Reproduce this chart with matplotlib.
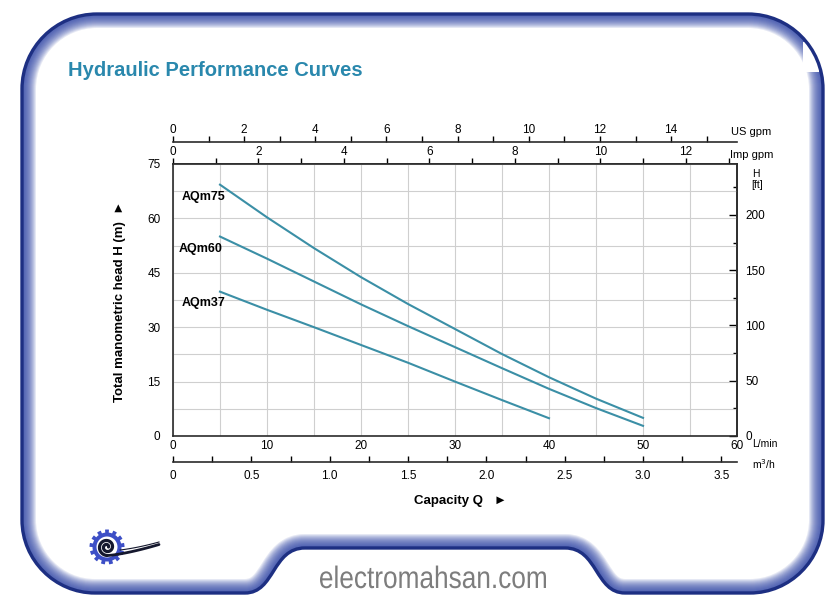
import numpy as np
import matplotlib
matplotlib.use("Agg")
import matplotlib.pyplot as plt
from matplotlib.path import Path
from matplotlib.patches import PathPatch, Polygon, Circle, Rectangle
from matplotlib.textpath import TextPath
from matplotlib.font_manager import FontProperties
from matplotlib.transforms import Affine2D
from matplotlib.ticker import MultipleLocator

plt.rcParams['font.family'] = ['Liberation Sans', 'DejaVu Sans']

# === Data ===
flow_lmin = [5, 10, 15, 20, 25, 30, 35, 40, 45, 50]
head_aqm75 = [69.3, 60.3, 51.8, 43.8, 36.4, 29.5, 22.6, 16.2, 10.3, 5.0]
head_aqm60 = [55.0, 48.9, 42.6, 36.3, 30.3, 24.5, 18.7, 13.0, 7.7, 2.8]
flow_aqm37 = [5, 10, 15, 20, 25, 30, 35, 40]
head_aqm37 = [39.8, 34.8, 30.0, 25.1, 20.2, 15.0, 9.9, 4.9]

curves = [
    ("AQm75", flow_lmin, head_aqm75, (0.9, 65.9)),
    ("AQm60", flow_lmin, head_aqm60, (0.65, 51.6)),
    ("AQm37", flow_aqm37, head_aqm37, (0.9, 36.7)),
]

lmin_ticks = [0, 10, 20, 30, 40, 50, 60]
head_ticks = [0, 15, 30, 45, 60, 75]
usgpm_ticks = [0, 2, 4, 6, 8, 10, 12, 14]
impgpm_ticks = [0, 2, 4, 6, 8, 10, 12]
m3h_ticks = [0, 0.5, 1.0, 1.5, 2.0, 2.5, 3.0, 3.5]
m3h_labels = ["0", "0.5", "1.0", "1.5", "2.0", "2.5", "3.0", "3.5"]
ft_ticks = [0, 50, 100, 150, 200]

CURVE_COLOR = "#3b8fa6"
TITLE_COLOR = "#2a88ad"
AXIS_COLOR = "#2b2b2b"
GRID_COLOR = "#cfcfcf"
FRAME_COLOR = "#1d2f82"

W, H = 839, 616
fig = plt.figure(figsize=(W / 100, H / 100), dpi=100)

# === Background: frame, title, logo, footer ===
bg = fig.add_axes([0, 0, 1, 1], zorder=-1)
bg.set_xlim(0, W)
bg.set_ylim(H, 0)
bg.axis("off")

verts = [
    (22, 89),
    (22, 47.6), (55.6, 14), (97, 14),
    (748, 14),
    (789.4, 14), (823, 47.6), (823, 89),
    (823, 520),
    (823, 560), (790, 593), (750, 593),
    (625, 593),
    (595, 593), (598, 548), (565, 548),
    (305, 548),
    (272, 548), (275, 593), (245, 593),
    (95, 593),
    (55, 593), (22, 560), (22, 520),
    (22, 89),
]
codes = ([Path.MOVETO] + [Path.CURVE4] * 3 + [Path.LINETO] + [Path.CURVE4] * 3
         + [Path.LINETO] + [Path.CURVE4] * 3 + [Path.LINETO] + [Path.CURVE4] * 3
         + [Path.LINETO] + [Path.CURVE4] * 3 + [Path.LINETO] + [Path.CURVE4] * 3
         + [Path.CLOSEPOLY])
frame_path = Path(verts, codes)
clip = PathPatch(frame_path, facecolor="none", edgecolor="none")
bg.add_patch(clip)
for k in range(1, 15):
    glow = PathPatch(frame_path, facecolor="none", edgecolor="#2f45a6", lw=2 * k * 0.72,
                     alpha=0.12, joinstyle="round")
    bg.add_patch(glow)
    glow.set_clip_path(clip)
bg.add_patch(Rectangle((803, 42), 16, 30, facecolor="white", edgecolor="none"))
bg.add_patch(PathPatch(frame_path, facecolor="none", edgecolor=FRAME_COLOR, lw=2.4))

bg.text(68, 70, "Hydraulic Performance Curves", fontsize=14.5, fontweight="bold",
        color=TITLE_COLOR, ha="left", va="center")

# footer url, squeezed like a narrow face
tp = TextPath((0, 0), "electromahsan.com", size=31, prop=FontProperties(family="Liberation Sans"))
ext = tp.get_extents()
sx = 226 / ext.width
tp = tp.transformed(Affine2D().translate(-ext.x0, 0).scale(sx, -1).translate(320, 588))
bg.add_patch(PathPatch(tp, facecolor="#7d7d7d", edgecolor="none"))

# logo: gear + spiral
cx, cy = 107, 547
phi = np.linspace(0, 2 * np.pi, 721)
r_out = np.where((np.floor(phi / (2 * np.pi / 13) * 2) % 2) == 0, 17.5, 14.5)
bg.add_patch(Polygon(np.column_stack([cx + r_out * np.cos(phi), cy - r_out * np.sin(phi)]),
                     closed=True, facecolor="#3d4fc6", edgecolor="none"))
bg.add_patch(Circle((cx, cy), 10.5, facecolor="white", edgecolor="none"))
sp = np.linspace(0.0, 3.5 * np.pi, 300)
rs = 1.5 + 7.0 * sp / (3.5 * np.pi)
bg.plot(cx + rs * np.cos(sp), cy - rs * np.sin(sp), color="#15182e", lw=2.3,
        solid_capstyle="round")
tx = np.linspace(cx, cx + 52, 60)
bg.plot(tx, cy + 8.5 - 11 * ((tx - cx) / 52) ** 1.4, color="#15182e", lw=2.0,
        solid_capstyle="round")
bg.plot(tx[15:], cy + 4 - 9 * ((tx[15:] - cx) / 52) ** 1.6, color="#15182e", lw=0.8)

# === Main chart ===
ax = fig.add_axes([173 / W, 1 - 436 / H, 564 / W, 272 / H])
for name, q, h, (lx, ly) in curves:
    ax.plot(q, h, color=CURVE_COLOR, lw=1.5, zorder=3)
    ax.text(lx, ly, name, fontsize=9, fontweight="bold", ha="left", va="center")

ax.set_xlim(0, 60)
ax.set_ylim(0, 75)
ax.set_xticks(lmin_ticks)
ax.set_yticks(head_ticks)
ax.xaxis.set_minor_locator(MultipleLocator(5))
ax.yaxis.set_minor_locator(MultipleLocator(7.5))
ax.grid(which="both", color=GRID_COLOR, lw=0.8)
ax.set_axisbelow(True)
ax.tick_params(which="both", length=0, labelsize=8.5)
ax.tick_params(axis="y", pad=9)
ax.tick_params(axis="x", pad=3)
for s in ax.spines.values():
    s.set_color(AXIS_COLOR)
    s.set_linewidth(1.2)

# right: feet
ft = ax.secondary_yaxis("right", functions=(lambda m: m * 3.28084, lambda f: f / 3.28084))
ft.set_yticks(ft_ticks)
ft.yaxis.set_minor_locator(MultipleLocator(25))
ft.tick_params(which="major", direction="in", length=6, width=1, labelsize=8.5, pad=6)
ft.tick_params(which="minor", direction="in", length=3, width=1)
ft.spines["right"].set_color(AXIS_COLOR)
ft.spines["right"].set_linewidth(1.2)

# top: Imp gpm on the frame, US gpm above
imp = ax.secondary_xaxis("top", functions=(lambda q: q / 4.54609, lambda g: g * 4.54609))
imp.set_xticks(impgpm_ticks)
imp.xaxis.set_minor_locator(MultipleLocator(1))
imp.tick_params(which="both", direction="out", length=4, width=1, labelsize=8.5, pad=0.5)
imp.spines["top"].set_color(AXIS_COLOR)
imp.spines["top"].set_linewidth(1.2)

us = ax.secondary_xaxis(1 + 22 / 272, functions=(lambda q: q / 3.78541, lambda g: g * 3.78541))
us.set_xticks(usgpm_ticks)
us.xaxis.set_minor_locator(MultipleLocator(1))
us.tick_params(which="both", direction="out", length=4, width=1, labelsize=8.5, pad=0.5)
us.spines["top"].set_color(AXIS_COLOR)
us.spines["top"].set_linewidth(1.2)

# bottom: m3/h
m3h = ax.secondary_xaxis(-26 / 272, functions=(lambda q: q * 0.06, lambda v: v / 0.06))
m3h.set_xticks(m3h_ticks, m3h_labels)
m3h.xaxis.set_minor_locator(MultipleLocator(0.25))
m3h.tick_params(which="both", direction="in", length=4, width=1, labelsize=8.5, pad=6)
m3h.spines["bottom"].set_color(AXIS_COLOR)
m3h.spines["bottom"].set_linewidth(1.2)

# unit labels and axis titles
bg.text(731, 132, "US gpm", fontsize=8, ha="left", va="center")
bg.text(730, 155, "Imp gpm", fontsize=8, ha="left", va="center")
bg.text(756, 174, "H", fontsize=7.5, ha="center", va="center")
bg.text(757, 185, "[ft]", fontsize=7.5, ha="center", va="center")
bg.text(752, 444, "L/min", fontsize=7.5, ha="left", va="center")
bg.text(752, 464, "m$^3$/h", fontsize=7.5, ha="left", va="center")

bg.text(120, 301, "Total manometric head H (m)  \u25ba", fontsize=9.5, fontweight="bold",
        rotation=90, ha="center", va="center")
bg.text(461, 501, "Capacity Q   \u25ba", fontsize=9.5, fontweight="bold", ha="center", va="center")

fig.savefig("out.png", dpi=100)
